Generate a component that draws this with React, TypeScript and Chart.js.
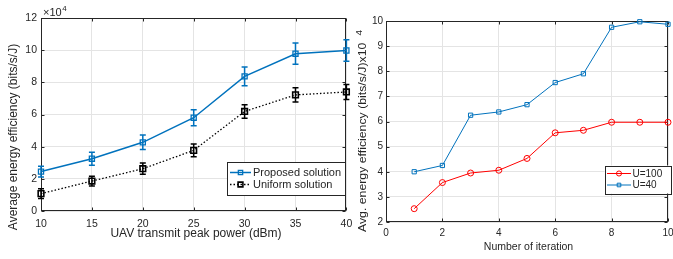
import React, { useEffect, useRef } from "react";
import { Chart, registerables } from "chart.js";
Chart.register(...registerables);

const AXIS = "#262626";
const GRID = "#e4e4e4";
const BLUE = "#0072BD";
const RED = "#FF0000";
const BLACK = "#000000";
const FONT = "'Liberation Sans', Arial, Helvetica, sans-serif";

// ---- Left panel data (values in units of 10^4 bits/s/J) ----
const powerDbm = [10, 15, 20, 25, 30, 35, 40];
const proposed = [2.45, 3.25, 4.27, 5.8, 8.37, 9.78, 9.98];
const proposedErr = [0.34, 0.4, 0.45, 0.5, 0.59, 0.66, 0.67];
const uniform = [1.08, 1.86, 2.63, 3.77, 6.19, 7.22, 7.4];
const uniformErr = [0.3, 0.3, 0.35, 0.4, 0.42, 0.45, 0.47];
const leftLegend = ["Proposed solution", "Uniform solution"];

// ---- Right panel data ----
const iterations = [1, 2, 3, 4, 5, 6, 7, 8, 9, 10];
const u100 = [2.53, 3.57, 3.95, 4.06, 4.53, 5.55, 5.65, 5.97, 5.97, 5.97];
const u40 = [4.0, 4.25, 6.25, 6.38, 6.67, 7.55, 7.9, 9.75, 9.97, 9.87];
const rightLegend = ["U=100", "U=40"];

function drawMarker(ctx: CanvasRenderingContext2D, style: string, x: number, y: number, r: number) {
  ctx.beginPath();
  if (style === "circle") {
    ctx.arc(x, y, r, 0, Math.PI * 2);
  } else {
    const s = r * Math.SQRT1_2;
    ctx.rect(x - s, y - s, 2 * s, 2 * s);
  }
  ctx.stroke();
}

const frameAndTicks = {
  id: "frameAndTicks",
  beforeDatasetsDraw(chart: any) {
    const { ctx, chartArea: a, scales } = chart;
    ctx.save();
    ctx.strokeStyle = AXIS;
    ctx.lineWidth = 1;
    const L = Math.round(a.left) + 0.5;
    const R = Math.round(a.right) - 0.5;
    const T = Math.round(a.top) + 0.5;
    const B = Math.round(a.bottom) - 0.5;
    ctx.strokeRect(L, T, R - L, B - T);
    const len = 3;
    ctx.beginPath();
    scales.x.ticks.forEach((t: any) => {
      const x = Math.round(scales.x.getPixelForValue(t.value)) + 0.5;
      ctx.moveTo(x, B);
      ctx.lineTo(x, B - len);
      ctx.moveTo(x, T);
      ctx.lineTo(x, T + len);
    });
    scales.y.ticks.forEach((t: any) => {
      const y = Math.round(scales.y.getPixelForValue(t.value)) + 0.5;
      ctx.moveTo(L, y);
      ctx.lineTo(L + len, y);
      ctx.moveTo(R, y);
      ctx.lineTo(R - len, y);
    });
    ctx.stroke();
    ctx.restore();
  },
};

const errorBars = {
  id: "errorBars",
  afterDatasetsDraw(chart: any, _args: any, opts: any) {
    const errs: (number[] | null)[] = opts.errors || [];
    const { ctx, scales } = chart;
    ctx.save();
    chart.data.datasets.forEach((ds: any, i: number) => {
      const e = errs[i];
      if (!e) return;
      ctx.strokeStyle = ds.borderColor;
      ctx.lineWidth = 1.5;
      ctx.setLineDash([]);
      ds.data.forEach((p: any, j: number) => {
        const x = scales.x.getPixelForValue(p.x);
        const y1 = scales.y.getPixelForValue(p.y - e[j]);
        const y2 = scales.y.getPixelForValue(p.y + e[j]);
        ctx.beginPath();
        ctx.moveTo(x, y1);
        ctx.lineTo(x, y2);
        ctx.moveTo(x - 3, y1);
        ctx.lineTo(x + 3, y1);
        ctx.moveTo(x - 3, y2);
        ctx.lineTo(x + 3, y2);
        ctx.stroke();
      });
    });
    ctx.restore();
  },
};

const boxLegend = {
  id: "boxLegend",
  afterDraw(chart: any, _args: any, opts: any) {
    const { ctx } = chart;
    const o = opts;
    ctx.save();
    ctx.fillStyle = "#ffffff";
    ctx.fillRect(o.x, o.y, o.w, o.h);
    ctx.strokeStyle = AXIS;
    ctx.lineWidth = 1;
    ctx.strokeRect(Math.round(o.x) + 0.5, Math.round(o.y) + 0.5, Math.round(o.w), Math.round(o.h));
    chart.data.datasets.forEach((ds: any, i: number) => {
      const y = o.rowY[i];
      ctx.strokeStyle = ds.borderColor;
      ctx.lineWidth = ds.borderWidth;
      ctx.setLineDash(ds.borderDash || []);
      ctx.beginPath();
      ctx.moveTo(o.lineX0, y);
      ctx.lineTo(o.lineX1, y);
      ctx.stroke();
      ctx.setLineDash([]);
      ctx.lineWidth = ds.pointBorderWidth;
      drawMarker(ctx, ds.pointStyle, (o.lineX0 + o.lineX1) / 2, y, ds.pointRadius * 0.85);
      ctx.fillStyle = AXIS;
      ctx.font = o.font;
      ctx.textBaseline = "middle";
      ctx.textAlign = "left";
      ctx.fillText(ds.label, o.textX, y + 0.5);
    });
    ctx.restore();
  },
};

const axisTitles = {
  id: "axisTitles",
  afterDraw(chart: any, _args: any, opts: any) {
    const { ctx } = chart;
    ctx.save();
    ctx.fillStyle = AXIS;
    (opts.items || []).forEach((it: any) => {
      ctx.save();
      ctx.font = it.font;
      ctx.textBaseline = it.baseline || "middle";
      ctx.textAlign = it.align || "center";
      ctx.translate(it.x, it.y);
      if (it.rotate) ctx.rotate(-Math.PI / 2);
      if (it.sx) ctx.scale(it.sx, 1);
      ctx.fillText(it.text, 0, 0);
      if (it.sup) {
        const w = ctx.measureText(it.text).width;
        ctx.font = it.supFont;
        ctx.fillText(it.sup, w + it.supDx, it.supDy);
      }
      ctx.restore();
    });
    ctx.restore();
  },
};

function tickFont(size: number) {
  return { family: FONT, size };
}

function LeftChart() {
  const ref = useRef<HTMLCanvasElement>(null);
  useEffect(() => {
    const chart = new Chart(ref.current!, {
      type: "line",
      data: {
        datasets: [
          {
            label: leftLegend[0],
            data: powerDbm.map((x, i) => ({ x, y: proposed[i] })),
            borderColor: BLUE,
            borderWidth: 1.5,
            pointStyle: "rect",
            pointRadius: 3.6,
            pointBorderWidth: 1.3,
            pointBackgroundColor: "transparent",
            pointBorderColor: BLUE,
            clip: false,
          } as any,
          {
            label: leftLegend[1],
            data: powerDbm.map((x, i) => ({ x, y: uniform[i] })),
            borderColor: BLACK,
            borderWidth: 1.3,
            borderDash: [1.5, 2],
            pointStyle: "rect",
            pointRadius: 4,
            pointBorderWidth: 1.6,
            pointBackgroundColor: "transparent",
            pointBorderColor: BLACK,
            clip: false,
          } as any,
        ],
      },
      options: {
        animation: false,
        responsive: false,
        devicePixelRatio: 1,
        events: [],
        layout: { padding: { top: 18, right: 1, left: 0, bottom: 0 } },
        scales: {
          x: {
            type: "linear",
            min: 10,
            max: 40,
            ticks: { stepSize: 5, color: AXIS, font: tickFont(10.5), padding: 7, maxRotation: 0 },
            grid: { color: GRID, drawTicks: false },
            border: { display: false },
            afterFit(s: any) {
              s.height = 48;
              s.paddingLeft = 0;
              s.paddingRight = 0;
            },
          },
          y: {
            min: 0,
            max: 12,
            ticks: { stepSize: 2, color: AXIS, font: tickFont(10.5), padding: 4 },
            grid: { color: GRID, drawTicks: false },
            border: { display: false },
            afterFit(s: any) {
              s.width = 41;
              s.paddingTop = 0;
              s.paddingBottom = 0;
            },
          },
        } as any,
        plugins: {
          legend: { display: false },
          tooltip: { enabled: false },
          errorBars: { errors: [proposedErr, uniformErr] },
          boxLegend: {
            x: 227,
            y: 162,
            w: 118,
            h: 33,
            rowY: [172.5, 184.5],
            lineX0: 230,
            lineX1: 251,
            textX: 253,
            font: `11px ${FONT}`,
          },
          axisTitles: {
            items: [
              { text: "UAV transmit peak power (dBm)", x: 196, y: 234, font: `12px ${FONT}` },
              { text: "Average energy efficiency (bits/s/J)", x: 14, y: 137, rotate: true, font: `12px ${FONT}` },
              {
                text: "\u00d710",
                x: 43,
                y: 16,
                align: "left",
                baseline: "alphabetic",
                font: `11px ${FONT}`,
                sup: "4",
                supFont: `8px ${FONT}`,
                supDx: 0.5,
                supDy: -5,
              },
            ],
          },
        } as any,
      },
      plugins: [frameAndTicks, errorBars, boxLegend, axisTitles],
    });
    return () => chart.destroy();
  }, []);
  return <canvas ref={ref} width={352} height={259} style={{ position: "absolute", left: 0, top: 0 }} />;
}

function RightChart() {
  const ref = useRef<HTMLCanvasElement>(null);
  useEffect(() => {
    const chart = new Chart(ref.current!, {
      type: "line",
      data: {
        datasets: [
          {
            label: rightLegend[0],
            data: iterations.map((x, i) => ({ x, y: u100[i] })),
            borderColor: RED,
            borderWidth: 1,
            pointStyle: "circle",
            pointRadius: 3,
            pointBorderWidth: 1,
            pointBackgroundColor: "transparent",
            pointBorderColor: RED,
            clip: false,
          } as any,
          {
            label: rightLegend[1],
            data: iterations.map((x, i) => ({ x, y: u40[i] })),
            borderColor: BLUE,
            borderWidth: 1,
            pointStyle: "rect",
            pointRadius: 3,
            pointBorderWidth: 1,
            pointBackgroundColor: "transparent",
            pointBorderColor: BLUE,
            clip: false,
          } as any,
        ],
      },
      options: {
        animation: false,
        responsive: false,
        devicePixelRatio: 1,
        events: [],
        layout: { padding: { top: 21, right: 2, left: 0, bottom: 0 } },
        scales: {
          x: {
            type: "linear",
            min: 0,
            max: 10,
            ticks: { stepSize: 2, color: AXIS, font: tickFont(10), padding: 5, maxRotation: 0 },
            grid: { color: GRID, drawTicks: false },
            border: { display: false },
            afterFit(s: any) {
              s.height = 37;
              s.paddingLeft = 0;
              s.paddingRight = 0;
            },
          },
          y: {
            min: 2,
            max: 10,
            ticks: { stepSize: 1, color: AXIS, font: tickFont(10), padding: 3 },
            grid: { color: GRID, drawTicks: false },
            border: { display: false },
            afterFit(s: any) {
              s.width = 33;
              s.paddingTop = 0;
              s.paddingBottom = 0;
            },
          },
        } as any,
        plugins: {
          legend: { display: false },
          tooltip: { enabled: false },
          boxLegend: {
            x: 251.5,
            y: 165.5,
            w: 66,
            h: 28,
            rowY: [173.5, 185],
            lineX0: 254,
            lineX1: 278,
            textX: 279.5,
            font: `10px ${FONT}`,
          },
          axisTitles: {
            items: [
              { text: "Number of iteration", x: 175.5, y: 247, font: `10.5px ${FONT}` },
              {
                text: "Avg. energy efficiency (bits/s/J)x10",
                x: 10,
                y: 232,
                rotate: true,
                align: "left",
                sx: 1.17,
                font: `10.5px ${FONT}`,
                sup: "4",
                supFont: `8.5px ${FONT}`,
                supDx: 6,
                supDy: -3,
              },
            ],
          },
        } as any,
      },
      plugins: [frameAndTicks, boxLegend, axisTitles],
    });
    return () => chart.destroy();
  }, []);
  return (
    <canvas
      ref={ref}
      width={320}
      height={259}
      style={{ position: "absolute", left: 353, top: 0, background: "#ffffff" }}
    />
  );
}

export default function App() {
  return (
    <div style={{ position: "fixed", left: 0, top: 0, width: 673, height: 259, background: "#ffffff", overflow: "hidden" }}>
      <LeftChart />
      <RightChart />
    </div>
  );
}
